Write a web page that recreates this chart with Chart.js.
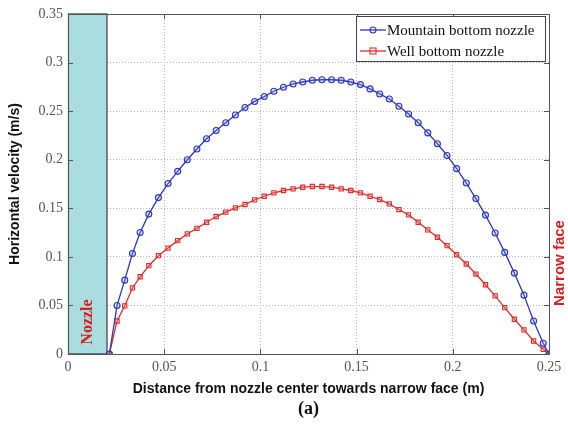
<!DOCTYPE html>
<html>
<head>
<meta charset="utf-8">
<script src="https://cdn.jsdelivr.net/npm/chart.js@4.4.1/dist/chart.umd.min.js"></script>
<style>
html,body{margin:0;padding:0;background:#fff;}
#wrap{width:568px;height:425px;}
</style>
</head>
<body>
<div id="wrap"><canvas id="c" width="568" height="425"></canvas></div>
<script>
// ---- data ----
const distance = [0.0215,0.0255,0.0295,0.0335,0.0375,0.042,0.047,0.052,0.057,
  0.062,0.067,0.072,0.077,0.082,0.087,0.092,0.097,0.102,0.107,0.112,0.117,0.122,0.127,0.132,
  0.137,0.142,0.147,0.152,0.157,0.162,0.167,0.172,0.177,0.182,0.187,0.192,0.197,0.202,0.207,
  0.212,0.217,0.222,0.227,0.232,0.237,0.242,0.247,0.25];
const mountainVelocity = [0,0.050,0.076,0.1035,0.125,0.144,0.161,0.1755,0.188,
  0.200,0.211,0.2216,0.230,0.238,0.246,0.2537,0.260,0.265,0.2705,0.2746,0.278,0.280,0.2818,0.2823,
  0.2823,0.2818,0.280,0.2773,0.2729,0.2677,0.2625,0.255,0.247,0.238,0.2276,0.2164,0.2044,0.1908,0.176,
  0.160,0.143,0.1246,0.1046,0.0833,0.0606,0.034,0.011,0];
const wellVelocity = [0,0.034,0.0496,0.068,0.0795,0.0909,0.1012,0.109,0.1167,
  0.1236,0.1294,0.1356,0.1415,0.146,0.1505,0.1539,0.1587,0.1624,0.1659,0.1683,0.170,0.1717,0.1724,0.1724,
  0.1717,0.170,0.1683,0.1659,0.1624,0.159,0.1545,0.1487,0.1432,0.1356,0.1278,0.1202,0.1115,0.1022,0.0926,
  0.0823,0.0713,0.0599,0.0478,0.0358,0.0248,0.0134,0.0048,0];
const seriesNames = ["Mountain bottom nozzle","Well bottom nozzle"];
const nozzleExtent = [0, 0.02];
const xAxisTitle = "Distance from nozzle center towards narrow face (m)";
const yAxisTitle = "Horizontal velocity (m/s)";
const panelLabel = "(a)";
const nozzleLabel = "Nozzle";
const faceLabel = "Narrow face";

const BLUE = "rgb(45,55,185)";
const RED = "rgb(222,45,45)";

const toPts = (ys) => ys.map((y,i)=>({x:distance[i], y:y}));

const decor = {
  id:'decor',
  beforeDatasetsDraw(chart){
    const {ctx, scales:{x,y}} = chart;
    const x0 = x.getPixelForValue(nozzleExtent[0]), x1 = x.getPixelForValue(nozzleExtent[1]);
    const yt = y.getPixelForValue(y.max), yb = y.getPixelForValue(y.min);
    ctx.save();
    ctx.fillStyle = '#aadde0';
    ctx.fillRect(x0, yt, x1-x0, yb-yt);
    ctx.strokeStyle = '#333';
    ctx.lineWidth = 1.2;
    ctx.strokeRect(x0+0.5, yt, x1-x0, yb-yt);
    ctx.restore();
  },
  afterDraw(chart){
    const {ctx, chartArea:a, scales:{x,y}} = chart;
    ctx.save();
    // frame
    ctx.strokeStyle = '#555';
    ctx.lineWidth = 1;
    ctx.strokeRect(a.left+0.5, a.top+0.5, a.right-a.left, a.bottom-a.top);
    // inner ticks
    ctx.beginPath();
    x.ticks.forEach(t=>{
      const px = Math.round(x.getPixelForValue(t.value))+0.5;
      ctx.moveTo(px,a.bottom); ctx.lineTo(px,a.bottom-5);
      ctx.moveTo(px,a.top); ctx.lineTo(px,a.top+5);
    });
    y.ticks.forEach(t=>{
      const py = Math.round(y.getPixelForValue(t.value))+0.5;
      ctx.moveTo(a.left,py); ctx.lineTo(a.left+5,py);
      ctx.moveTo(a.right,py); ctx.lineTo(a.right-5,py);
    });
    ctx.stroke();

    // legend
    const lx = 356, ly = 16, lw = 189, lh = 45;
    ctx.fillStyle = '#fff';
    ctx.fillRect(lx, ly, lw, lh);
    ctx.strokeStyle = '#444';
    ctx.strokeRect(lx+0.5, ly+0.5, lw, lh);
    const ds = chart.data.datasets;
    [30, 51].forEach((yy,i)=>{
      const d = ds[i];
      ctx.strokeStyle = d.borderColor;
      ctx.lineWidth = 1.3;
      ctx.beginPath(); ctx.moveTo(360,yy); ctx.lineTo(386,yy); ctx.stroke();
      ctx.lineWidth = 1.1;
      if (i===0){ ctx.beginPath(); ctx.arc(373,yy,3,0,Math.PI*2); ctx.stroke(); }
      else { ctx.strokeRect(370,yy-3,6,6); }
      ctx.fillStyle = '#111';
      ctx.font = '15px "Liberation Serif"';
      ctx.textAlign = 'left'; ctx.textBaseline = 'middle';
      ctx.fillText(d.label, 387, yy+1);
    });

    // axis titles
    const cx = (a.left+a.right)/2;
    ctx.fillStyle = '#111';
    ctx.font = 'bold 14px "Liberation Sans"';
    ctx.textAlign = 'center'; ctx.textBaseline = 'middle';
    ctx.fillText(xAxisTitle, cx, 389);
    ctx.font = 'bold 18px "Liberation Serif"';
    ctx.fillText(panelLabel, cx, 409);
    ctx.save();
    ctx.translate(15, (a.top+a.bottom)/2);
    ctx.rotate(-Math.PI/2);
    ctx.font = 'bold 14px "Liberation Sans"';
    ctx.fillText(yAxisTitle, 0, 0);
    ctx.restore();

    // annotations
    ctx.fillStyle = '#d42020';
    ctx.save();
    ctx.translate(88, 322);
    ctx.rotate(-Math.PI/2);
    ctx.font = 'bold 16px "Liberation Serif"';
    ctx.fillText(nozzleLabel, 0, 0);
    ctx.restore();
    ctx.save();
    ctx.translate(560, 263);
    ctx.rotate(-Math.PI/2);
    ctx.font = 'bold 15px "Liberation Sans"';
    ctx.fillText(faceLabel, 0, 0);
    ctx.restore();
    ctx.restore();
  }
};

new Chart(document.getElementById('c'), {
  type: 'scatter',
  data: {
    datasets: [
      {label: seriesNames[0], data: toPts(mountainVelocity), showLine: true,
       borderColor: BLUE, backgroundColor: 'rgba(0,0,0,0)', borderWidth: 1.3,
       pointStyle: 'circle', pointRadius: 3, pointBorderWidth: 1.1,
       pointBorderColor: BLUE, pointBackgroundColor: 'rgba(120,130,230,0.25)'},
      {label: seriesNames[1], data: toPts(wellVelocity), showLine: true,
       borderColor: RED, backgroundColor: 'rgba(0,0,0,0)', borderWidth: 1.3,
       pointStyle: 'rect', pointRadius: 3, pointBorderWidth: 1.1,
       pointBorderColor: RED, pointBackgroundColor: 'rgba(240,140,140,0.25)'}
    ]
  },
  options: {
    responsive: false, animation: false, devicePixelRatio: 1,
    layout: {padding: {top: 14, right: 19, left: 0, bottom: 0}},
    plugins: {legend: {display: false}, tooltip: {enabled: false}},
    scales: {
      x: {
        type: 'linear', min: 0, max: 0.25,
        afterFit(s){ s.height = 71; },
        border: {display: false, dash: [1,2]},
        grid: {color: '#b8b8b8', lineWidth: 1, drawTicks: false},
        ticks: {stepSize: 0.05, padding: 5, color: '#555',
          font: {family: '"Liberation Serif"', size: 14},
          callback: v => String(+v.toFixed(2))}
      },
      y: {
        type: 'linear', min: 0, max: 0.35,
        afterFit(s){ s.width = 68; },
        border: {display: false, dash: [1,2]},
        grid: {color: '#b8b8b8', lineWidth: 1, drawTicks: false},
        ticks: {stepSize: 0.05, padding: 5, color: '#555',
          font: {family: '"Liberation Serif"', size: 14},
          callback: v => String(+v.toFixed(2))}
      }
    }
  },
  plugins: [decor]
});
</script>
</body>
</html>
